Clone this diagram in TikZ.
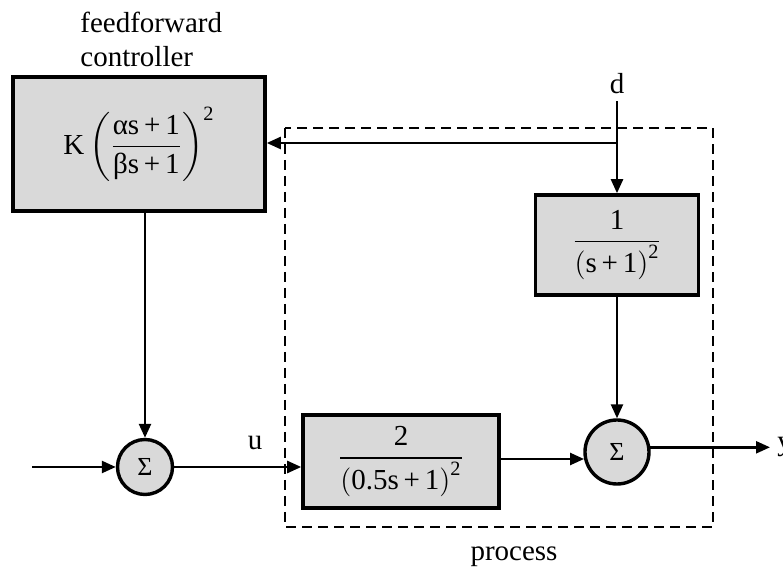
\documentclass[tikz,border=0pt]{standalone}
\usepackage{amsmath}
\usepackage{fontspec}
\setmainfont{Liberation Serif}
\usetikzlibrary{arrows.meta}
\tikzset{
  blk/.style={draw, line width=1.8pt, fill=gray!30, inner sep=2pt},
  sumnode/.style={circle, draw, line width=1.7pt, fill=gray!30, inner sep=0pt, font=\fontsize{13}{15}\selectfont},
  sig/.style={line width=1.2pt, -{Triangle[length=7pt,width=6pt]}},
}
\begin{document}
\begin{tikzpicture}[x=0.5pt,y=-0.5pt,font=\fontsize{14.5}{17}\selectfont]
  \useasboundingbox (0,0) rectangle (783,571);
  % process boundary
  \draw[line width=0.8pt,dash pattern=on 5pt off 3pt] (285,128) rectangle (713,527);
  \node[anchor=north west,align=left,inner sep=0pt] (fflab) at (80,12) {feedforward\\controller};
  \node[blk,minimum width=126pt,minimum height=67pt] (ff) at (139,144)
    {$\text{K}\left(\dfrac{\text{αs\,+\,1}}{\text{βs\,+\,1}}\right)^{\text{2}}$};
  \node[blk,minimum width=81.5pt,minimum height=50pt] (dist) at (617,245)
    {$\dfrac{\text{1}}{\left(\text{s\,+\,1}\right)^{\text{2}}}$};
  \node[blk,minimum width=98pt,minimum height=46.5pt] (plant) at (401,461.5)
    {$\dfrac{\text{2}}{\left(\text{0.5s\,+\,1}\right)^{\text{2}}}$};
  \node[sumnode,minimum size=27.5pt] (sum1) at (145,467) {Σ};
  \node[sumnode,minimum size=32pt] (sum2) at (617,452) {Σ};
  \node (dlab) at (617,84) {d};
  \node (ulab) at (255,443) {u};
  \node[anchor=west,inner sep=0pt] (ylab) at (777,447) {y};
  \node (proclab) at (514,557) {process};
  \coordinate (tap) at (617,143);
  \coordinate (in) at (32,467);
  \coordinate (out) at (770,447);
  % signals
  \draw[sig] (dlab.south) -- (dist.north);
  \draw[sig] (tap) -- (ff.east |- tap);
  \draw[sig] (sum1.north |- ff.south) -- (sum1.north);
  \draw[sig] (in) -- (sum1.west);
  \draw[sig] (sum1.east) -- (sum1.east -| plant.west);
  \draw[sig] (sum2.192 -| plant.east) -- (sum2.192);
  \draw[sig] (dist.south) -- (sum2.north);
  \draw[sig] (sum2.8) -- (sum2.8 -| out);
\end{tikzpicture}
\end{document}
